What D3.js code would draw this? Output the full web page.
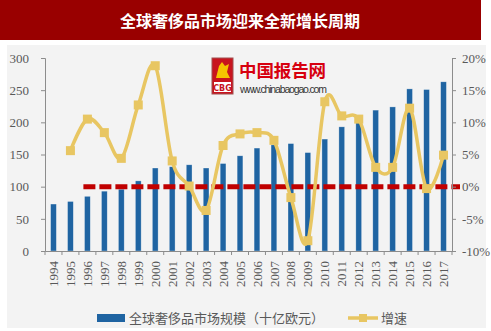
<!DOCTYPE html>
<html><head><meta charset="utf-8">
<script src="https://cdn.jsdelivr.net/npm/d3@7"></script>
<style>
html,body{margin:0;padding:0;background:#fff;}
svg{display:block;}
</style>
</head><body>
<svg id="chart" width="491" height="331"></svg>
<script>
// ---- data ----
const title = "全球奢侈品市场迎来全新增长周期";
const years = ["1994","1995","1996","1997","1998","1999","2000","2001","2002","2003","2004","2005",
               "2006","2007","2008","2009","2010","2011","2012","2013","2014","2015","2016","2017"];
const marketSize = [73,77,85,93,96,109,129,131,134,129,136,148,160,165,167,153,174,193,206,219,224,252,251,263];
const growthRate = [null,5.6,10.5,8.4,4.4,12.7,18.8,4.0,0.1,-3.7,6.4,8.2,8.4,7.2,-1.7,-8.4,13.2,11.0,10.5,3.0,3.0,12.2,-0.3,4.9];
const leftTicks = [0,50,100,150,200,250,300];
const rightTicks = [-10,-5,0,5,10,15,20];
const refLineValue = 100;       // dashed reference (= 0% growth)
const refLineStart = "1996";
const seriesNames = ["全球奢侈品市场规模（十亿欧元）","增速"];

// ---- styles ----
const C = {bar:"#1f64a2", line:"#e8c662", ref:"#c00000", axis:"#8c8c8c", text:"#595959", titleBg:"#990000", panel:"#f3f3f3"};
const tickFont = "'Liberation Serif','Times New Roman',serif";
const cjkFont = "'Noto Sans CJK SC','Noto Sans',sans-serif";

const svg = d3.select("#chart");
// panel + title
svg.append("rect").attr("x",7).attr("y",45).attr("width",479).attr("height",283).attr("fill",C.panel);
svg.append("rect").attr("x",0).attr("y",0).attr("width",481).attr("height",40).attr("fill",C.titleBg);
svg.append("text").attr("x",240).attr("y",21).attr("dy","0.35em").attr("text-anchor","middle")
  .attr("fill","#fff").attr("font-family",cjkFont).attr("font-weight","bold").attr("font-size",16).text(title);

const plot = {left:45, right:452, top:58, bottom:251};
const x = d3.scaleBand().domain(years).range([plot.left,plot.right]).paddingInner(0.66).paddingOuter(0.33);
const yL = d3.scaleLinear().domain([0,300]).range([plot.bottom,plot.top]);
const yR = d3.scaleLinear().domain([-10,20]).range([plot.bottom,plot.top]);

// logo
const logo = svg.append("g");
logo.append("rect").attr("x",212).attr("y",58).attr("width",21).attr("height",36).attr("fill","#c8141e").attr("stroke","#a05050").attr("stroke-width",1);
logo.append("path").attr("d","M216,78 L219,66 L222,62 L225,66 L229,64 L227,72 L230,78 Z").attr("fill","#f5c400");
logo.append("rect").attr("x",214).attr("y",82).attr("width",17).attr("height",10).attr("fill","#fff");
logo.append("text").attr("x",222.5).attr("y",90.5).attr("text-anchor","middle").attr("font-family","'DejaVu Sans',sans-serif")
  .attr("font-size",8).attr("font-weight","bold").attr("fill","#c8141e").text("CBG");
svg.append("text").attr("x",239).attr("y",77).attr("fill","#d7000f").attr("font-family",cjkFont)
  .attr("font-weight","bold").attr("font-size",17.5).attr("textLength",87).text("中国报告网");
svg.append("text").attr("x",240).attr("y",93).attr("fill","#333").attr("font-family","'Liberation Sans',Arial,sans-serif")
  .attr("font-size",10.5).attr("textLength",87).text("www.chinabaogao.com");

// bars
svg.append("g").selectAll("rect").data(years).join("rect")
  .attr("x",d=>x(d)).attr("width",x.bandwidth())
  .attr("y",(d,i)=>yL(marketSize[i])).attr("height",(d,i)=>yL(0)-yL(marketSize[i]))
  .attr("fill",C.bar).attr("stroke","#ffffff").attr("stroke-opacity",0.5).attr("stroke-width",0.6);

// dashed reference line
svg.append("line")
  .attr("x1",x(refLineStart)+x.bandwidth()/2-4).attr("x2",plot.right+8)
  .attr("y1",yL(refLineValue)).attr("y2",yL(refLineValue))
  .attr("stroke",C.ref).attr("stroke-width",5).attr("stroke-dasharray","12,4");

// growth line
const pts = years.map((d,i)=>({d,v:growthRate[i]})).filter(p=>p.v!==null);
const line = d3.line().x(p=>x(p.d)+x.bandwidth()/2).y(p=>yR(p.v)).curve(d3.curveCardinal.tension(0));
svg.append("path").datum(pts).attr("d",line).attr("fill","none").attr("stroke",C.line).attr("stroke-width",3.5);
svg.append("g").selectAll("rect").data(pts).join("rect")
  .attr("x",p=>x(p.d)+x.bandwidth()/2-4.5).attr("y",p=>yR(p.v)-4.5).attr("width",9).attr("height",9)
  .attr("fill",C.line);

// axes
const styleAxis = g=>{ g.select(".domain").attr("stroke",C.axis); g.selectAll(".tick line").attr("stroke",C.axis);
  g.selectAll("text").attr("fill",C.text).attr("font-family",tickFont).attr("font-size",13); };
svg.append("g").attr("transform",`translate(${plot.left},0)`)
  .call(d3.axisLeft(yL).tickValues(leftTicks).tickSize(4).tickSizeOuter(4).tickPadding(12))
  .call(styleAxis);
svg.append("g").attr("transform",`translate(${plot.right},0)`)
  .call(d3.axisRight(yR).tickValues(rightTicks).tickSize(4).tickSizeOuter(4).tickPadding(6).tickFormat(d=>d+"%"))
  .call(styleAxis);
const xg = svg.append("g").attr("transform",`translate(0,${plot.bottom})`)
  .call(d3.axisBottom(x).tickSize(0).tickSizeOuter(0)).call(styleAxis);
xg.selectAll(".tick text").attr("transform","rotate(-90)").attr("text-anchor","end")
  .attr("x",-10).attr("y",0).attr("dy","0.35em");
// boundary ticks for categories
const bounds = years.map(d=>x(d)-x.step()*x.paddingInner()/2).concat([plot.right]);
xg.selectAll(".bt").data(bounds).join("line").attr("class","bt")
  .attr("x1",d=>d).attr("x2",d=>d).attr("y1",0).attr("y2",4).attr("stroke",C.axis);

// legend
const lg = svg.append("g");
lg.append("rect").attr("x",97).attr("y",314).attr("width",28).attr("height",8).attr("fill",C.bar);
lg.append("text").attr("x",129).attr("y",318).attr("dy","0.35em").attr("fill",C.text).attr("font-family",cjkFont)
  .attr("font-size",13).text(seriesNames[0]);
lg.append("line").attr("x1",348).attr("x2",378).attr("y1",318).attr("y2",318).attr("stroke",C.line).attr("stroke-width",3.5);
lg.append("rect").attr("x",359).attr("y",314).attr("width",8).attr("height",8).attr("fill",C.line);
lg.append("text").attr("x",381).attr("y",318).attr("dy","0.35em").attr("fill",C.text).attr("font-family",cjkFont)
  .attr("font-size",13).text(seriesNames[1]);
</script>
</body></html>
